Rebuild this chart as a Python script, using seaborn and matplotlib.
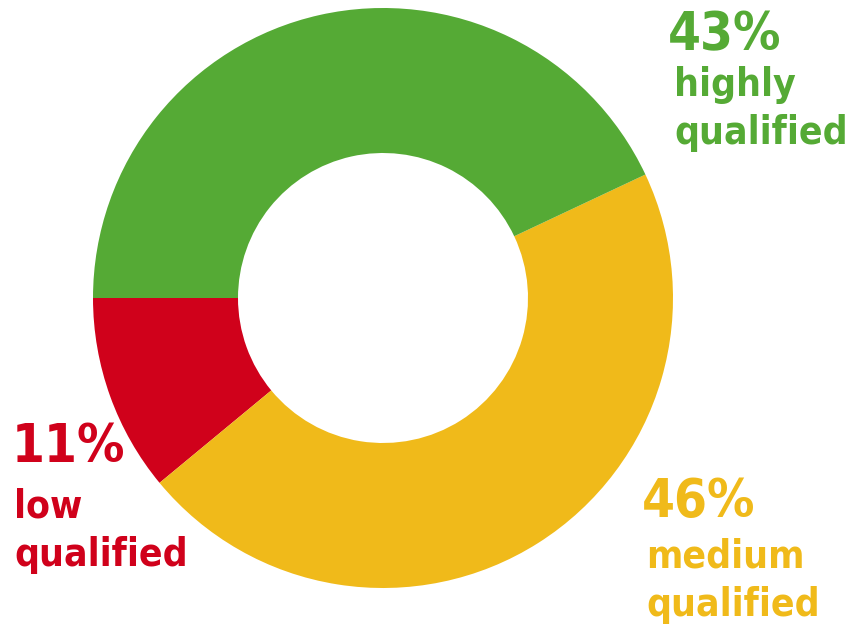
import matplotlib
matplotlib.use("Agg")
import matplotlib.pyplot as plt
import seaborn as sns

# data
categories = ["low qualified", "medium qualified", "highly qualified"]
shares = [11, 46, 43]
pct_labels = ["11%", "46%", "43%"]
name_labels = ["low\nqualified", "medium\nqualified", "highly\nqualified"]
colors = ["#D0011B", "#F0BA1A", "#55AA35"]

sns.set_theme(style="white")
plt.rcParams['font.family'] = ['DejaVu Sans']

fig = plt.figure(figsize=(8.52, 6.3), dpi=100)
W, H = 852, 630

# donut: centre (383, 298) px, radius 290 px
ax = fig.add_axes([93 / W, (H - 298 - 290) / H, 580 / W, 580 / H])
ax.pie(shares, colors=sns.color_palette(colors), startangle=180, counterclock=True,
       radius=1.0, wedgeprops=dict(width=0.5, linewidth=0))
ax.set_xlim(-1, 1)
ax.set_ylim(-1, 1)
ax.set_aspect('equal')
ax.axis('off')

# label positions (left, top) in px
pct_pos = [(12, 421), (642, 476), (668, 9)]
name_pos = [(14, 488), (646, 538), (674, 66)]

for i in range(len(categories)):
    x, y = pct_pos[i]
    fig.text(x / W, 1 - y / H, pct_labels[i], color=colors[i], fontsize=38,
             fontweight='bold', fontstretch='condensed', ha='left', va='top')
    x, y = name_pos[i]
    fig.text(x / W, 1 - y / H, name_labels[i], color=colors[i], fontsize=28,
             fontweight='bold', fontstretch='condensed', ha='left', va='top',
             linespacing=1.33)

fig.savefig("out.png", dpi=100)
